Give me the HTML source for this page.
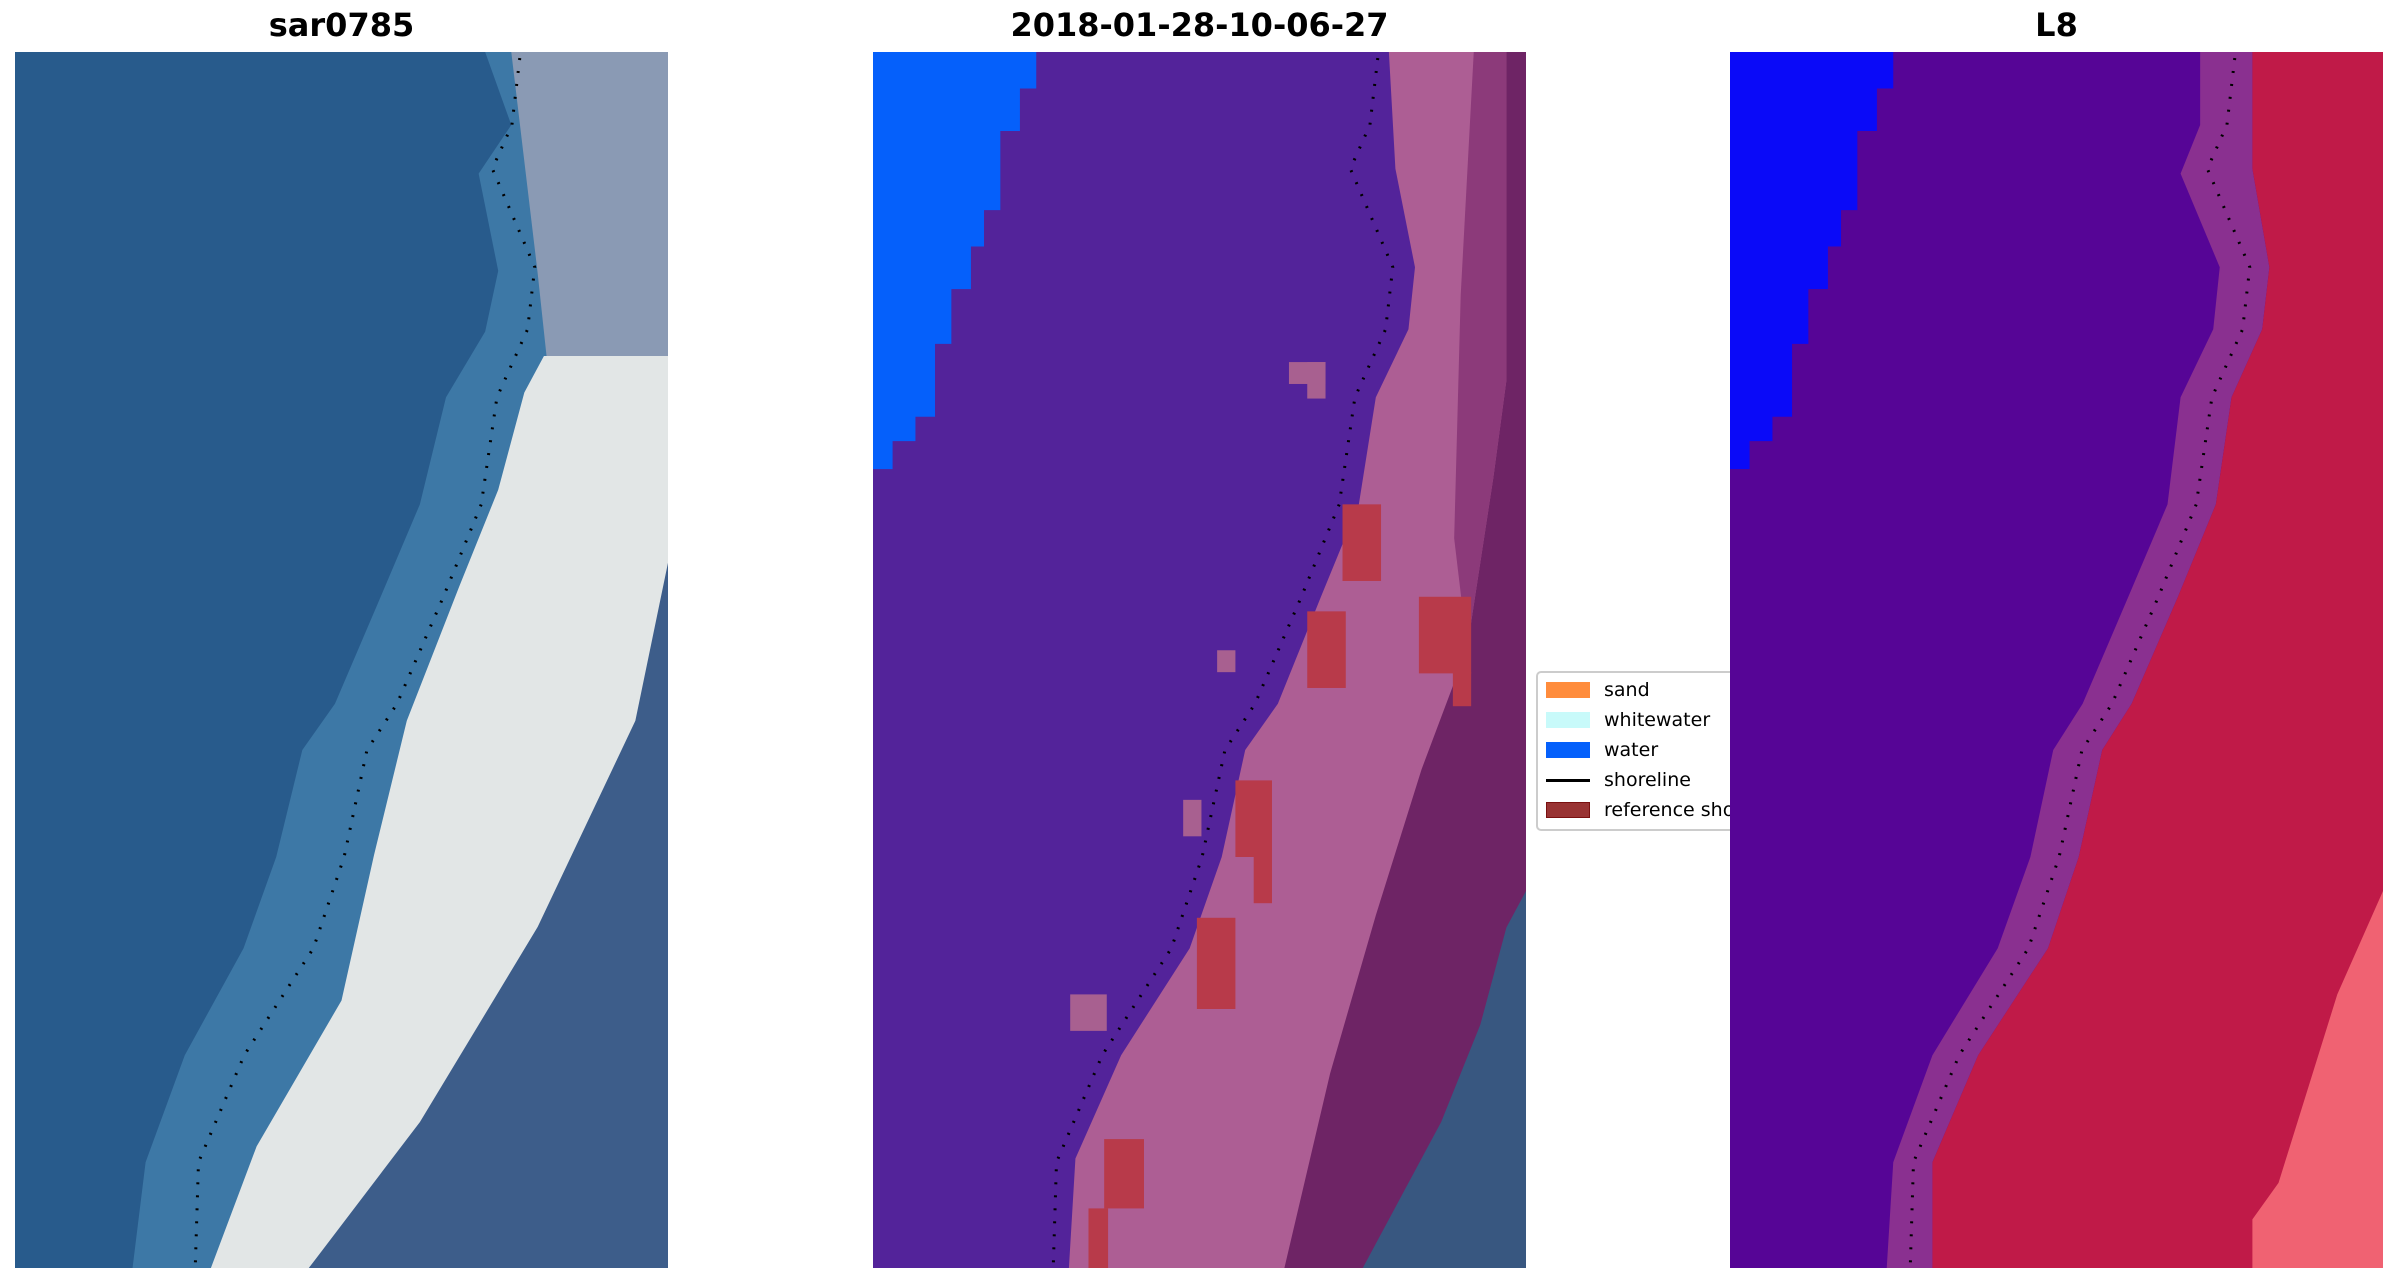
<!DOCTYPE html>
<html><head><meta charset="utf-8"><style>
body{margin:0;background:#fff;width:2398px;height:1283px;position:relative;overflow:hidden;font-family:"DejaVu Sans","Liberation Sans",sans-serif}
.t{position:absolute;top:6px;font-weight:bold;font-size:32px;text-align:center;width:653px;color:#000}
svg.p{position:absolute;top:52px;width:653px;height:1216px}
.leg{position:absolute;left:1536px;top:671px;width:240px;height:156px;border:2px solid #ccc;border-radius:5px;background:#fff;font-size:19px}
.leg div{position:absolute;left:8px;height:22px}
.leg span{position:absolute;left:58px;top:-3px;white-space:nowrap}
.sw{position:absolute;left:0;top:0;width:44px;height:16px}
</style></head><body>
<div class="t" style="left:15px">sar0785</div>
<div class="t" style="left:873px">2018-01-28-10-06-27</div>
<div class="t" style="left:1730px">L8</div>

<svg class="p" style="left:15px" viewBox="0 0 100 100" preserveAspectRatio="none">
<rect width="100" height="100" fill="#285b8c"/>
<polygon points="72,0 76,6 71,10 74,18 72,23 66,28.4 62,37.2 56,44.8 49,53.6 44,57.4 40,66.2 35,73.7 26,82.5 20,91.3 18,100 100,100 100,0" fill="#3d78a6"/>
<polygon points="76,0 100,0 100,28 82,28 80,18" fill="#8a9ab4"/>
<polygon points="81,25 100,25 100,65 80,72 60,90 45,100 30,100 37,90 50,78 55,66 60,55 68,44 74,36 78,28" fill="#e2e6e6"/>
<polygon points="100,42 100,100 45,100 62,88 80,72 95,55" fill="#3d5d8a"/>
<polyline points="77.3,0.5 76.1,6 73.1,9.6 79.6,17.7 78.5,22.8 73.8,28.4 71.4,37.2 65.6,44.8 58.5,53.6 53.9,57.4 50.4,66.2 45.7,73.7 35.1,82.5 28.1,91.3 27.6,100" fill="none" stroke="#000" stroke-width="3" stroke-dasharray="2 11" vector-effect="non-scaling-stroke"/>
</svg>

<svg class="p" style="left:873px" viewBox="0 0 100 100" preserveAspectRatio="none">
<rect width="100" height="100" fill="#53239a"/>
<polygon points="0,0 25,0 25,3 22.5,3 22.5,6.5 19.5,6.5 19.5,13 17,13 17,16 15,16 15,19.5 12,19.5 12,24 9.5,24 9.5,30 6.5,30 6.5,32 3,32 3,34.3 0,34.3" fill="#0560fb"/>
<polygon points="79,0 100,0 100,100 30,100 31,91 38,82.5 48.5,73.7 53.4,66.2 57,57.4 62,53.6 68.6,44.8 74.4,37.2 77,28.4 82,22.8 83,17.7 80,9.6" fill="#ad5e94"/>
<polygon points="97,0 100,0 100,100 63,100 70,84 77,71 84,59 91,49 95,35 97,27" fill="#6e2465"/>
<polygon points="92,0 97,0 97,27 95,35 91,49 89,40 90,20" fill="#8c3a7a"/>
<polygon points="100,69 100,100 75,100 80,95 87,88 93,80 97,72" fill="#385780"/>
<rect x="71.9" y="37.2" width="5.9" height="6.3" fill="#b83a4a"/>
<rect x="66.5" y="46" width="5.9" height="6.3" fill="#b83a4a"/>
<rect x="83.6" y="44.8" width="8" height="6.3" fill="#b83a4a"/>
<rect x="88.8" y="51" width="2.8" height="2.8" fill="#b83a4a"/>
<rect x="55.5" y="59.9" width="5.6" height="6.3" fill="#b83a4a"/>
<rect x="58.3" y="66.2" width="2.8" height="3.8" fill="#b83a4a"/>
<rect x="49.6" y="71.2" width="5.9" height="7.5" fill="#b83a4a"/>
<rect x="35.4" y="89.4" width="6.1" height="5.7" fill="#b83a4a"/>
<rect x="33" y="95.1" width="3" height="4.9" fill="#b83a4a"/>
<rect x="63.7" y="25.5" width="5.6" height="1.8" fill="#a86090"/>
<rect x="66.5" y="25.5" width="2.8" height="3" fill="#a86090"/>
<rect x="52.7" y="49.2" width="2.8" height="1.8" fill="#a86090"/>
<rect x="30.2" y="77.5" width="5.6" height="3" fill="#a86090"/>
<rect x="47.5" y="61.5" width="2.8" height="3" fill="#a86090"/>
<polyline points="77.3,0.5 76.1,6 73.1,9.6 79.6,17.7 78.5,22.8 73.8,28.4 71.4,37.2 65.6,44.8 58.5,53.6 53.9,57.4 50.4,66.2 45.7,73.7 35.1,82.5 28.1,91.3 27.6,100" fill="none" stroke="#000" stroke-width="3" stroke-dasharray="2 11" vector-effect="non-scaling-stroke"/>
</svg>

<div class="leg">
<div style="top:9px"><i class="sw" style="background:#ff8c3c"></i><span>sand</span></div>
<div style="top:39px"><i class="sw" style="background:#c8fafa"></i><span>whitewater</span></div>
<div style="top:69px"><i class="sw" style="background:#0560fb"></i><span>water</span></div>
<div style="top:99px"><i class="sw" style="top:7px;height:3px;background:#000"></i><span>shoreline</span></div>
<div style="top:129px"><i class="sw" style="background:#993333;border:1px solid #7a1010;box-sizing:border-box"></i><span>reference shoreline</span></div>
</div>

<svg class="p" style="left:1730px" viewBox="0 0 100 100" preserveAspectRatio="none">
<rect width="100" height="100" fill="#560596"/>
<polygon points="0,0 25,0 25,3 22.5,3 22.5,6.5 19.5,6.5 19.5,13 17,13 17,16 15,16 15,19.5 12,19.5 12,24 9.5,24 9.5,30 6.5,30 6.5,32 3,32 3,34.3 0,34.3" fill="#0a0af8"/>
<polygon points="72,0 72,6 69,10 75,17.7 74,22.8 69,28.4 67,37.2 61,44.8 54,53.6 49.5,57.4 46,66.2 41,73.7 31,82.5 25,91.3 24,100 31,100 31,91.3 38,82.5 48.7,73.7 53.4,66.2 57,57.4 61.5,53.6 68.6,44.8 74.4,37.2 76.8,28.4 81.5,22.8 82.6,17.7 80,9.6 80,0" fill="#8a3090"/>
<polygon points="80,0 100,0 100,100 31,100 31,91.3 38,82.5 48.7,73.7 53.4,66.2 57,57.4 61.5,53.6 68.6,44.8 74.4,37.2 76.8,28.4 81.5,22.8 82.6,17.7 80,9.6" fill="#c01a48"/>
<polygon points="100,69 100,100 80,100 80,96 84,93 93,77.5" fill="#f06272"/>
<polyline points="77.3,0.5 76.1,6 73.1,9.6 79.6,17.7 78.5,22.8 73.8,28.4 71.4,37.2 65.6,44.8 58.5,53.6 53.9,57.4 50.4,66.2 45.7,73.7 35.1,82.5 28.1,91.3 27.6,100" fill="none" stroke="#000" stroke-width="3" stroke-dasharray="2 11" vector-effect="non-scaling-stroke"/>
</svg>
</body></html>
